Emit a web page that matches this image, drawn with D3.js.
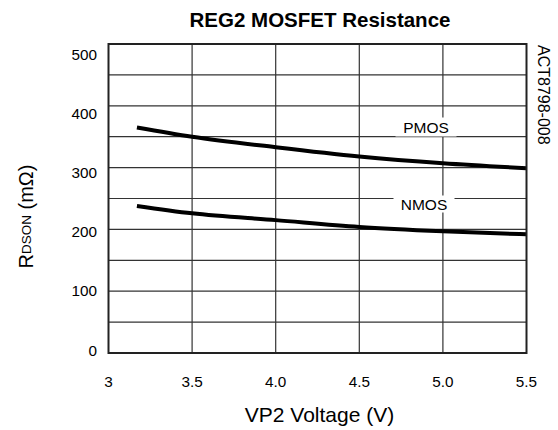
<!DOCTYPE html>
<html>
<head>
<meta charset="utf-8">
<script src="https://cdn.jsdelivr.net/npm/d3@7"></script>
<style>
  body { margin: 0; background: #fff; }
  text { font-family: "Liberation Sans", Arial, sans-serif; fill: #000; }
</style>
</head>
<body>
<svg width="558" height="430"></svg>
<script>
// values
var voltage = [3.17, 3.5, 4.0, 4.5, 5.0, 5.5];
var pmos = [365, 350, 333, 318, 307, 299];
var nmos = [238, 226, 215, 204, 197, 192];
var xTicks = [3, 3.5, 4.0, 4.5, 5.0, 5.5];
var xTickLabels = ["3", "3.5", "4.0", "4.5", "5.0", "5.5"];
var yTicks = [0, 100, 200, 300, 400, 500];
var yGrid = [50, 100, 150, 200, 250, 300, 350, 400, 450];

var svg = d3.select("svg");
var plotL = 108.5, plotR = 526.5, plotT = 44, plotB = 353;

var x = d3.scaleLinear().domain([3, 5.5]).range([plotL, plotR]);
var y = d3.scaleLinear().domain([0, 500]).range([plotB, plotT]);
// tick labels sit on a slightly tighter spacing than the grid
var yLab = d3.scaleLinear().domain([0, 500]).range([355.5, 59.5]);

// grid
svg.append("g").selectAll("line").data(yGrid).enter().append("line")
    .attr("x1", plotL).attr("x2", plotR)
    .attr("y1", function (d) { return y(d); })
    .attr("y2", function (d) { return y(d); })
    .attr("stroke", "#333").attr("stroke-width", 1.2);

svg.append("g").selectAll("line").data(xTicks.slice(1, -1)).enter().append("line")
    .attr("x1", function (d) { return x(d); })
    .attr("x2", function (d) { return x(d); })
    .attr("y1", plotT).attr("y2", plotB)
    .attr("stroke", "#333").attr("stroke-width", 1.2);

// curves
var line = d3.line()
    .x(function (d, i) { return x(voltage[i]); })
    .y(function (d) { return y(d); })
    .curve(d3.curveMonotoneX);

[pmos, nmos].forEach(function (s) {
    svg.append("path").attr("d", line(s))
        .attr("fill", "none").attr("stroke", "#000")
        .attr("stroke-width", 4);
});

// series labels with white boxes
var labels = [
    { t: "PMOS", cx: 426, cy: 127, w: 61, h: 19 },
    { t: "NMOS", cx: 424, cy: 204, w: 61, h: 17 }
];
labels.forEach(function (l) {
    svg.append("rect")
        .attr("x", l.cx - l.w / 2).attr("y", l.cy - l.h / 2)
        .attr("width", l.w).attr("height", l.h)
        .attr("fill", "#fff");
    svg.append("text")
        .attr("x", l.cx).attr("y", l.cy + 5.5)
        .attr("text-anchor", "middle")
        .attr("font-size", 15.5)
        .text(l.t);
});

// frame
svg.append("rect")
    .attr("x", plotL).attr("y", plotT)
    .attr("width", plotR - plotL).attr("height", plotB - plotT)
    .attr("fill", "none").attr("stroke", "#222").attr("stroke-width", 2);

// tick labels
svg.append("g").selectAll("text").data(yTicks).enter().append("text")
    .attr("x", 97).attr("y", function (d) { return yLab(d); })
    .attr("text-anchor", "end")
    .attr("font-size", 15.3)
    .text(function (d) { return d; });

svg.append("g").selectAll("text").data(xTicks).enter().append("text")
    .attr("x", function (d) { return x(d); }).attr("y", 386.5)
    .attr("text-anchor", "middle")
    .attr("font-size", 15.3)
    .text(function (d, i) { return xTickLabels[i]; });

// titles
svg.append("text")
    .attr("x", 320).attr("y", 27)
    .attr("text-anchor", "middle")
    .attr("font-size", 20.5).attr("font-weight", "bold")
    .text("REG2 MOSFET Resistance");

svg.append("text")
    .attr("x", 319.5).attr("y", 421.5)
    .attr("text-anchor", "middle")
    .attr("font-size", 21)
    .text("VP2 Voltage (V)");

var yt = svg.append("text")
    .attr("transform", "translate(33.3,216.5) rotate(-90)")
    .attr("text-anchor", "middle")
    .attr("font-size", 20);
yt.append("tspan").text("R");
yt.append("tspan").attr("font-size", 13.5).attr("dy", -2.5).text("DSON");
yt.append("tspan").attr("dy", 2.5).text(" (m\u03A9)");

svg.append("text")
    .attr("transform", "translate(538,45) rotate(90)")
    .attr("text-anchor", "start")
    .attr("font-size", 16)
    .text("ACT8798-008");
</script>
</body>
</html>
